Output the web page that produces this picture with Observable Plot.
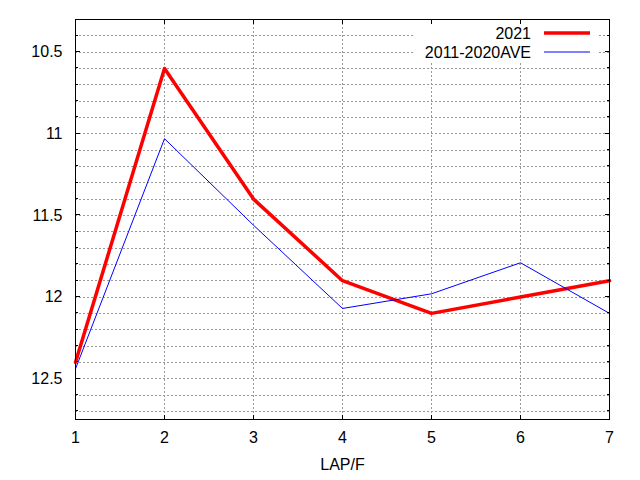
<!DOCTYPE html>
<html><head><meta charset="utf-8">
<script src="https://cdn.jsdelivr.net/npm/d3@7"></script>
<script src="https://cdn.jsdelivr.net/npm/@observablehq/plot@0.6"></script>
<style>body{margin:0;background:#fff} svg{display:block}</style>
</head><body><div id="chart"></div>
<script>
const laps = [1, 2, 3, 4, 5, 6, 7];
const values2021 = [12.4, 10.6, 11.4, 11.9, 12.1, 12.0, 11.9];
const valuesAve = [12.44, 11.03, 11.56, 12.07, 11.98, 11.79, 12.1];
const seriesNames = ["2021", "2011-2020AVE"];
const seriesColors = ["#ff0000", "#0000ff"];
const yTickLabels = [10.5, 11, 11.5, 12, 12.5];
const yGridValues = [10.4, 10.5, 10.6, 10.7, 10.8, 10.9, 11.0, 11.1, 11.2, 11.3, 11.4, 11.5, 11.6, 11.7, 11.8, 11.9, 12.0, 12.1, 12.2, 12.3, 12.4, 12.5, 12.6, 12.7];
const xLabel = "LAP/F";

const rows2021 = laps.map((lap, i) => ({lap, value: values2021[i]}));
const rowsAve = laps.map((lap, i) => ({lap, value: valuesAve[i]}));

const font = "'Liberation Sans', Arial, sans-serif";
const chart = Plot.plot({
  width: 640, height: 480,
  marginLeft: 75, marginRight: 31, marginTop: 19, marginBottom: 61,
  style: {fontFamily: font, fontSize: "16px", color: "black", background: "white"},
  x: {domain: [1, 7]},
  y: {domain: [10.3, 12.75], reverse: true},
  marks: [
    Plot.gridX(laps.slice(1, -1), {stroke: "#999999", strokeOpacity: 1, strokeDasharray: "2,2", shapeRendering: "crispEdges"}),
    Plot.gridY(yGridValues, {stroke: "#999999", strokeOpacity: 1, strokeDasharray: "2,2", shapeRendering: "crispEdges"}),
    Plot.lineY(rows2021, {x: "lap", y: "value", stroke: seriesColors[0], strokeWidth: 3.5}),
    Plot.lineY(rowsAve, {x: "lap", y: "value", stroke: seriesColors[1], strokeWidth: 1}),
    Plot.axisX(laps, {tickSize: 0, tickPadding: 12, tickFormat: d => String(d), label: null}),
    Plot.axisY(yTickLabels, {tickSize: 0, tickPadding: 13, tickFormat: d => String(d), label: null}),
    Plot.text([xLabel], {frameAnchor: "bottom", dy: 50, text: d => d, fill: "black"}),
    Plot.frame({stroke: "black", strokeWidth: 1, shapeRendering: "crispEdges"})
  ]
});

const svg = d3.select(chart);
const sx = chart.scale("x"), sy = chart.scale("y");
const L = sx.apply(1), R = sx.apply(7), T = sy.apply(10.3), B = sy.apply(12.75);
const g = svg.append("g").attr("stroke", "black").attr("stroke-width", 1).attr("shape-rendering", "crispEdges");
// y ticks (inward, left and right)
yGridValues.forEach(v => {
  const major = yTickLabels.some(t => Math.abs(t - v) < 1e-9);
  const len = major ? 4.5 : 2.5;
  const y = sy.apply(v);
  g.append("line").attr("x1", L).attr("x2", L + len).attr("y1", y).attr("y2", y);
  g.append("line").attr("x1", R).attr("x2", R - len).attr("y1", y).attr("y2", y);
});
// x ticks (inward, bottom and top)
laps.forEach(v => {
  const x = sx.apply(v);
  g.append("line").attr("x1", x).attr("x2", x).attr("y1", B).attr("y2", B - 4.5);
  g.append("line").attr("x1", x).attr("x2", x).attr("y1", T).attr("y2", T + 4.5);
});
// legend
const lg = svg.append("g").attr("font-family", font).attr("font-size", "16px");
lg.append("rect").attr("x", R - 196).attr("y", T + 5).attr("width", 185).attr("height", 38).attr("fill", "white");
seriesNames.forEach((name, i) => {
  const y = T + 14 + i * 19;
  lg.append("text").attr("x", R - 78).attr("y", y).attr("dy", "0.35em").attr("text-anchor", "end").attr("fill", "black").text(name);
  lg.append("line").attr("x1", R - 65).attr("x2", R - 19).attr("y1", y).attr("y2", y)
    .attr("stroke", seriesColors[i]).attr("stroke-width", i === 0 ? 3.5 : 1);
});
document.getElementById("chart").appendChild(chart);
</script>
</body></html>
